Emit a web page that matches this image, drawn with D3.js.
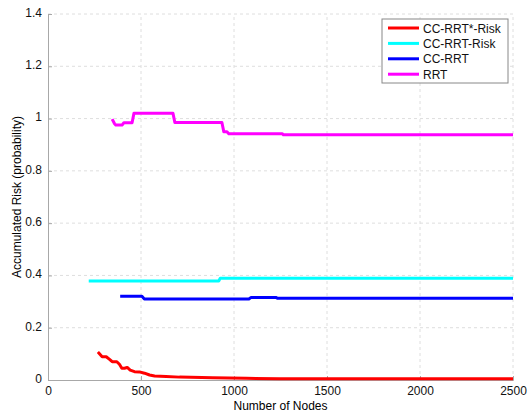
<!DOCTYPE html>
<html>
<head>
<meta charset="utf-8">
<script src="https://cdn.jsdelivr.net/npm/d3@7"></script>
<style>
  body { margin: 0; background: #fff; }
  text { font-family: "Liberation Sans", Arial, sans-serif; }
</style>
</head>
<body>
<div id="chart"></div>
<script>
// values
const seriesNames = ["CC-RRT*-Risk", "CC-RRT-Risk", "CC-RRT", "RRT"];
const seriesColors = ["#ff0000", "#00ffff", "#0000ff", "#ff00ff"];

const ccrrtStarNodes = [268, 272, 291, 313, 331, 345, 370, 384, 397, 411, 426, 442, 465, 492, 519, 546, 573, 635, 707, 886, 1066, 1245, 2500];
const ccrrtStarRisk  = [0.107, 0.104, 0.089, 0.089, 0.079, 0.070, 0.070, 0.060, 0.045, 0.045, 0.048, 0.038, 0.032, 0.031, 0.026, 0.019, 0.015, 0.013, 0.011, 0.009, 0.0065, 0.005, 0.005];

const ccrrtRiskNodes = [219, 918, 926, 2500];
const ccrrtRiskVals  = [0.379, 0.379, 0.389, 0.389];

const ccrrtNodes = [388, 505, 518, 1080, 1092, 1225, 1235, 2500];
const ccrrtVals  = [0.320, 0.320, 0.310, 0.310, 0.316, 0.316, 0.3125, 0.3125];

const rrtNodes = [345, 358, 365, 398, 408, 452, 462, 672, 682, 935, 945, 962, 972, 1260, 1265, 2500];
const rrtVals  = [0.998, 0.98, 0.975, 0.975, 0.984, 0.984, 1.02, 1.02, 0.985, 0.985, 0.95, 0.95, 0.942, 0.942, 0.938, 0.938];

const xTicks = [0, 500, 1000, 1500, 2000, 2500];
const yTicks = [0, 0.2, 0.4, 0.6, 0.8, 1, 1.2, 1.4];

const width = 532, height = 415;
const margin = { top: 14, right: 19, bottom: 35, left: 48 };

const svg = d3.select("#chart").append("svg")
  .attr("width", width)
  .attr("height", height);

const x = d3.scaleLinear().domain([0, 2500]).range([margin.left, width - margin.right]);
const y = d3.scaleLinear().domain([0, 1.4]).range([height - margin.bottom, margin.top]);

// dashed grid
svg.append("g").selectAll("line")
  .data(xTicks.slice(1))
  .enter().append("line")
  .attr("x1", d => x(d)).attr("x2", d => x(d))
  .attr("y1", y(0)).attr("y2", y(1.4))
  .attr("stroke", "#dedede")
  .attr("stroke-dasharray", "3,3");

svg.append("g").selectAll("line")
  .data(yTicks.slice(1))
  .enter().append("line")
  .attr("x1", x(0)).attr("x2", x(2500))
  .attr("y1", d => y(d)).attr("y2", d => y(d))
  .attr("stroke", "#dedede")
  .attr("stroke-dasharray", "3,3");

// axes (matlab style: ticks inward, grey lines)
const xAxis = svg.append("g")
  .attr("transform", `translate(0,${y(0)})`)
  .call(d3.axisBottom(x).tickValues(xTicks).tickSize(-4).tickPadding(8).tickFormat(d3.format("d")));
const yAxis = svg.append("g")
  .attr("transform", `translate(${x(0)},0)`)
  .call(d3.axisLeft(y).tickValues(yTicks).tickSize(-4).tickPadding(6).tickFormat(d => d === 0 ? "0" : d3.format("")(d)));

[xAxis, yAxis].forEach(a => {
  a.select(".domain").attr("stroke", "#a8a8a8");
  a.selectAll(".tick line").attr("stroke", "#a8a8a8");
  a.selectAll(".tick text").attr("fill", "#111").style("font-size", "12px")
    .style("font-family", "'Liberation Sans', Arial, sans-serif");
});
xAxis.selectAll(".tick text").attr("dy", "0.6em");
yAxis.selectAll(".tick text").attr("dy", "0.2em");

const line = d3.line().x(d => x(d[0])).y(d => y(d[1]));

const series = [
  d3.zip(ccrrtStarNodes, ccrrtStarRisk),
  d3.zip(ccrrtRiskNodes, ccrrtRiskVals),
  d3.zip(ccrrtNodes, ccrrtVals),
  d3.zip(rrtNodes, rrtVals)
];

series.forEach((s, i) => {
  svg.append("path")
    .datum(s)
    .attr("d", line)
    .attr("fill", "none")
    .attr("stroke", seriesColors[i])
    .attr("stroke-width", 3)
    .attr("stroke-linejoin", "round");
});

// axis labels
svg.append("text")
  .attr("x", (x(0) + x(2500)) / 2)
  .attr("y", 410)
  .attr("text-anchor", "middle")
  .style("font-size", "12px")
  .text("Number of Nodes");

svg.append("text")
  .attr("transform", `translate(21,${(y(0) + y(1.4)) / 2}) rotate(-90)`)
  .attr("text-anchor", "middle")
  .style("font-size", "12px")
  .text("Accumulated Risk (probability)");

// legend
const legend = svg.append("g").attr("transform", "translate(382,19)");
legend.append("rect")
  .attr("width", 126).attr("height", 64)
  .attr("fill", "#fff")
  .attr("stroke", "#888");

seriesNames.forEach((name, i) => {
  const row = legend.append("g").attr("transform", `translate(0,${9 + i * 15.4})`);
  row.append("line")
    .attr("x1", 6).attr("x2", 37)
    .attr("stroke", seriesColors[i])
    .attr("stroke-width", 3);
  row.append("text")
    .attr("x", 41).attr("y", 4.5)
    .style("font-size", "12px")
    .attr("fill", "#111")
    .text(name);
});
</script>
</body>
</html>
